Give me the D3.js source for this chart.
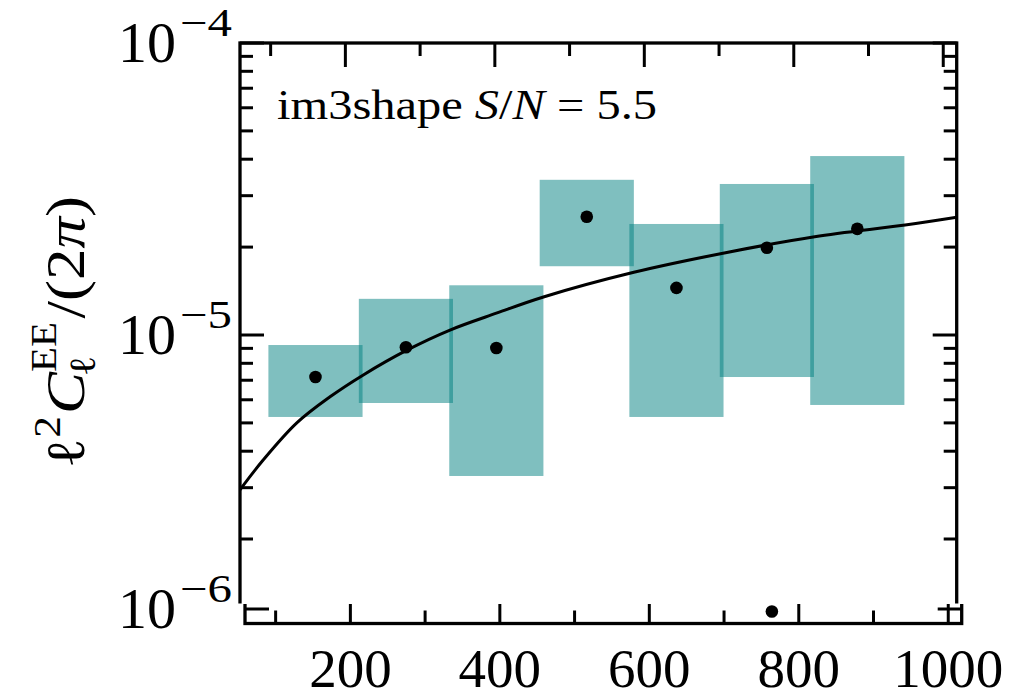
<!DOCTYPE html>
<html>
<head>
<meta charset="utf-8">
<script src="https://cdn.jsdelivr.net/npm/d3@7"></script>
<style>
  body { margin: 0; background: #fff; }
  text { font-family: "Liberation Serif", "DejaVu Serif", serif; fill: #000; }
</style>
</head>
<body>
<div id="chart"></div>
<script>
// binned measurement (centre, value, 68% band)
var binCenters = [160, 281, 402, 523, 643, 764, 885];
var binHalfWidth = 63;
var binValues = [7.18e-6, 9.08e-6, 9.03e-6, 2.54e-5, 1.45e-5, 1.99e-5, 2.31e-5];
var bandLow = [5.24e-6, 5.85e-6, 3.29e-6, 1.72e-5, 5.24e-6, 7.18e-6, 5.76e-6];
var bandHigh = [9.24e-6, 1.33e-5, 1.48e-5, 3.40e-5, 2.40e-5, 3.29e-5, 4.10e-5];

// stray point down at the bottom edge
var extraEll = [764];
var extraValues = [9.8e-7];

// theory curve
var modelEll = [59, 90, 135, 179, 224, 283, 340, 403, 465, 586, 707, 828, 949, 1018];
var modelValues = [2.95e-6, 3.73e-6, 5.0e-6, 6.13e-6, 7.3e-6, 8.89e-6, 1.04e-5,
                   1.19e-5, 1.35e-5, 1.64e-5, 1.91e-5, 2.17e-5, 2.38e-5, 2.53e-5];

var xMajor = [200, 400, 600, 800, 1000];
var xMinor = [100, 300, 500, 700, 900];
var yMajor = [1e-6, 1e-5, 1e-4];
var yMajorExp = ["\u22126", "\u22125", "\u22124"];
var yMinor = [2e-6, 3e-6, 4e-6, 5e-6, 6e-6, 7e-6, 8e-6, 9e-6,
              2e-5, 3e-5, 4e-5, 5e-5, 6e-5, 7e-5, 8e-5, 9e-5];

var W = 1025, H = 700;
var pLeft = 240, pRight = 956.7, pTop = 43, pBottom = 641.5;
var cut = 603.5;          // the lower strip of the picture is offset
var dx = 5, dy = -18;

var x = d3.scaleLinear().domain([59, 1018]).range([pLeft, pRight]);
var y = d3.scaleLog().domain([1e-6, 1e-4]).range([627, pTop]);

var svg = d3.select("#chart").append("svg")
  .attr("width", W)
  .attr("height", H);

var defs = svg.append("defs");
defs.append("clipPath").attr("id", "clipTop")
  .append("rect").attr("x", 0).attr("y", 0).attr("width", W).attr("height", cut);
defs.append("clipPath").attr("id", "clipBottom")
  .append("rect").attr("x", -dx).attr("y", cut + 0.5 - dy).attr("width", W).attr("height", 200);
defs.append("clipPath").attr("id", "clipPanel")
  .append("rect").attr("x", pLeft).attr("y", pTop).attr("width", pRight - pLeft).attr("height", pBottom - pTop);

function drawPanel(g) {
  var panel = g.append("g").attr("clip-path", "url(#clipPanel)");

  panel.selectAll(".band")
    .data(binCenters)
    .enter().append("rect")
      .classed("band", true)
      .attr("x", function (d) { return x(d - binHalfWidth); })
      .attr("width", function (d) { return x(d + binHalfWidth) - x(d - binHalfWidth); })
      .attr("y", function (d, i) { return y(bandHigh[i]); })
      .attr("height", function (d, i) { return y(bandLow[i]) - y(bandHigh[i]); })
      .attr("fill", "#008080")
      .attr("fill-opacity", 0.5);

  var line = d3.line()
    .x(function (d, i) { return x(modelEll[i]); })
    .y(function (d) { return y(d); })
    .curve(d3.curveCatmullRom.alpha(0.5));

  panel.append("path")
    .datum(modelValues)
    .attr("d", line)
    .attr("fill", "none")
    .attr("stroke", "#000")
    .attr("stroke-width", 3);

  panel.selectAll(".pt")
    .data(binValues)
    .enter().append("circle")
      .classed("pt", true)
      .attr("cx", function (d, i) { return x(binCenters[i]); })
      .attr("cy", function (d) { return y(d); })
      .attr("r", 6.3)
      .attr("fill", "#000");

  panel.selectAll(".extra")
    .data(extraValues)
    .enter().append("circle")
      .classed("extra", true)
      .attr("cx", function (d, i) { return x(extraEll[i]); })
      .attr("cy", function (d) { return y(d); })
      .attr("r", 6.3)
      .attr("fill", "#000");

  // ticks, pointing inwards on all four sides
  var ticks = g.append("g").attr("stroke", "#000").attr("stroke-width", 3);
  function yTicks(vals, len) {
    vals.forEach(function (v) {
      ticks.append("line").attr("x1", pLeft).attr("x2", pLeft + len).attr("y1", y(v)).attr("y2", y(v));
      ticks.append("line").attr("x1", pRight).attr("x2", pRight - len).attr("y1", y(v)).attr("y2", y(v));
    });
  }
  function xTicks(vals, len) {
    vals.forEach(function (v) {
      ticks.append("line").attr("x1", x(v)).attr("x2", x(v)).attr("y1", pTop).attr("y2", pTop + len);
      ticks.append("line").attr("x1", x(v)).attr("x2", x(v)).attr("y1", pBottom).attr("y2", pBottom - len);
    });
  }
  yTicks(yMajor, 24);
  yTicks(yMinor, 13);
  xTicks(xMajor, 24);
  xTicks(xMinor, 13);

  g.append("rect")
    .attr("x", pLeft).attr("y", pTop)
    .attr("width", pRight - pLeft).attr("height", pBottom - pTop)
    .attr("fill", "none")
    .attr("stroke", "#000")
    .attr("stroke-width", 3.3);
}

var gTop = svg.append("g").attr("clip-path", "url(#clipTop)");
drawPanel(gTop);
var gBottom = svg.append("g").attr("transform", "translate(" + dx + "," + dy + ")")
  .append("g").attr("clip-path", "url(#clipBottom)");
drawPanel(gBottom);

// tick labels
function imgY(v) { var p = y(v); return p > cut ? p + dy : p; }

svg.selectAll(".xlab")
  .data(xMajor)
  .enter().append("text")
    .classed("xlab", true)
    .attr("x", function (d) { return x(d) + dx; })
    .attr("y", 687)
    .attr("text-anchor", "middle")
    .style("font-size", "55px")
    .text(function (d) { return d; });

yMajor.forEach(function (v, i) {
  var ty = imgY(v);
  svg.append("text")
    .attr("x", 176)
    .attr("y", ty + 19)
    .attr("text-anchor", "end")
    .style("font-size", "58px")
    .text("10");
  svg.append("text")
    .attr("x", 180)
    .attr("y", ty - 7)
    .attr("textLength", 52)
    .attr("lengthAdjust", "spacingAndGlyphs")
    .style("font-size", "40px")
    .text(yMajorExp[i]);
});

// annotation
var ann = svg.append("text")
  .attr("x", 277)
  .attr("y", 119)
  .attr("textLength", 380)
  .attr("lengthAdjust", "spacingAndGlyphs")
  .style("font-size", "43px");
ann.append("tspan").text("im3shape ");
ann.append("tspan").style("font-style", "italic").text("S");
ann.append("tspan").text("/");
ann.append("tspan").style("font-style", "italic").text("N");
ann.append("tspan").text(" = 5.5");

// y label, built piece by piece then stretched to the reference length
var ylOuter = svg.append("g").attr("transform", "translate(84,332) rotate(-90)");
var yl = ylOuter.append("g");
var cur = 0;
function piece(str, size, shift, italic, advance) {
  var t = yl.append("text")
    .attr("x", cur)
    .attr("y", shift)
    .style("font-size", size + "px")
    .style("font-style", italic ? "italic" : "normal")
    .text(str);
  var w = t.node().getComputedTextLength();
  if (advance !== false) cur += w;
  return w;
}
piece("\u2113", 54, 0, false);
piece("2", 37, -24, false);
cur += 2;
piece("C", 54, 0, true);
var subStart = cur;
var wSup = piece("EE", 35, -28, false, false);
cur = subStart - 4;
var wSub = piece("\u2113", 37, 11, false, false);
cur = subStart + Math.max(wSup, wSub) + 3;
piece("/(2", 54, 0, false);
piece("\u03c0", 54, 0, true);
piece(")", 54, 0, false);
var sx = 272 / cur;
yl.attr("transform", "scale(" + sx + ",1) translate(" + (-cur / 2) + ",0)");
</script>
</body>
</html>
